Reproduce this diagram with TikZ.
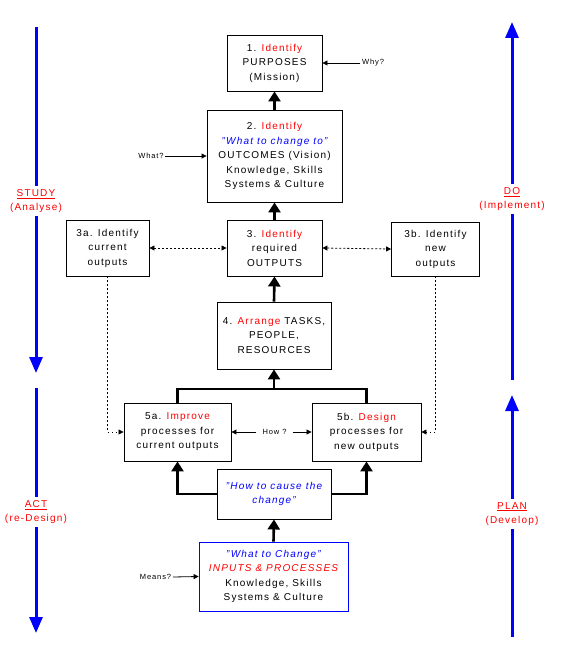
\documentclass[tikz,border=0pt]{standalone}
\usepackage{fontspec}
\setmainfont{Liberation Sans}[LetterSpace=12]
\usetikzlibrary{arrows.meta}

\begin{document}
\begin{tikzpicture}[
  x=1pt,y=-1pt,
  font=\fontsize{10}{14.5}\selectfont,
  box/.style={draw=black,line width=0.9pt,align=center,inner sep=0pt},
  link/.style={line width=2.6pt,-{Triangle[length=10pt,width=12pt]}},
  bar/.style={line width=2.6pt},
  ask/.style={font=\fontsize{7.5}{8}\selectfont,inner sep=1.5pt},
  askline/.style={line width=0.8pt,-{Triangle[length=5pt,width=5pt]}},
  peer/.style={line width=0.8pt,dash pattern=on 2pt off 2pt,{Triangle[length=5pt,width=5pt]}-{Triangle[length=5pt,width=5pt]}},
  feed/.style={line width=0.8pt,dash pattern=on 1.5pt off 2.5pt,-{Triangle[length=5pt,width=5pt]}},
  phase/.style={text=red,align=center,inner sep=3pt},
  pdca/.style={draw=blue,line width=3pt},
  pdcahead/.style={pdca,-{Triangle[length=16pt,width=13pt]}}
]
\useasboundingbox (0,0) rectangle (566,650);

% Purpose, outcome and output boxes.
\node[box,minimum width=95pt,minimum height=56pt] (p1) at (274.5,63)
  {1. \textcolor{red}{Identify}\\PURPOSES\\(Mission)};
\node[box,minimum width=135pt,minimum height=92pt] (out) at (274.5,156)
  {2. \textcolor{red}{Identify}\\\textcolor{blue}{\itshape "What to change to"}\\OUTCOMES (Vision)\\Knowledge, Skills\\Systems \& Culture};
\node[box,minimum width=83pt,minimum height=56pt] (cur) at (107.5,248)
  {3a. Identify\\current\\outputs};
\node[box,minimum width=95pt,minimum height=56pt] (req) at (274.5,248)
  {3. \textcolor{red}{Identify}\\required\\OUTPUTS};
\node[box,minimum width=88pt,minimum height=54pt] (new) at (435.5,249)
  {3b. Identify\\new\\outputs};
\node[box,minimum width=114pt,minimum height=67pt] (res) at (274,335.5)
  {4. \textcolor{red}{Arrange} TASKS,\\PEOPLE,\\RESOURCES};

% Process boxes.
\node[box,minimum width=107pt,minimum height=58pt] (imp) at (177.5,432)
  {5a. \textcolor{red}{Improve}\\processes for\\current outputs};
\node[box,minimum width=109pt,minimum height=58pt] (des) at (366.5,432)
  {5b. \textcolor{red}{Design}\\processes for\\new outputs};
\node[box,text=blue,font=\fontsize{10}{14.5}\selectfont\itshape,minimum width=114pt,minimum height=50pt] (how) at (274,494)
  {"How to cause the\\change"};
\node[box,draw=blue,minimum width=149pt,minimum height=69pt] (inp) at (273.5,576.5)
  {\textcolor{blue}{\itshape "What to Change"}\\\textcolor{red}{\itshape INPUTS \& PROCESSES}\\Knowledge, Skills\\Systems \& Culture};

% Questions.
\node[ask] (why) at (373,63) {Why?};
\node[ask] (what) at (151,156) {What?};
\node[ask,inner sep=6pt] (howq) at (274.5,432) {How ?};
\node[ask] (means) at (155.5,577) {Means?};

\draw[askline] (why.west) -- (p1.east);
\draw[askline] (what.east) -- (out.west);
\draw[askline] (means.east) -- (inp.west);
\draw[askline] (howq.west) -- (imp.east);
\draw[askline] (howq.east) -- (des.west);

% Main flow.
\draw[link] (out.north) -- (p1.south);
\draw[link] (req.north) -- (out.south);
\draw[link] (res.north) -- (req.south);
\coordinate (join) at (274,389);
\draw[bar] (imp.north) |- (join) -| (des.north);
\draw[link] (join) -- (res.south);
\draw[link] (how.west) -| (imp.south);
\draw[link] (how.east) -| (des.south);
\draw[link] (inp.north) -- (how.south);

\draw[peer] (cur.east) -- (req.west);
\draw[peer] (req.east) -- (new.west);
\draw[feed] (cur.south) |- (imp.west);
\draw[feed] (new.south) |- (des.east);

% PDCA arrows at the sides.
\node[phase] (study) at (36,201) {\underline{STUDY}\\(Analyse)};
\node[phase] (act) at (36,512) {\underline{ACT}\\(re-Design)};
\node[phase] (do) at (512,199) {\underline{DO}\\(Implement)};
\node[phase] (plan) at (512,514) {\underline{PLAN}\\(Develop)};

\coordinate (s0) at (36,27);
\coordinate (s1) at (36,373);
\coordinate (a0) at (36,388);
\coordinate (a1) at (36,633);
\coordinate (d0) at (512,380);
\coordinate (d1) at (512,22);
\coordinate (l0) at (512,637);
\coordinate (l1) at (512,395);

\draw[pdca] (s0) -- (study.north);
\draw[pdcahead] (study.south) -- (s1);
\draw[pdca] (a0) -- (act.north);
\draw[pdcahead] (act.south) -- (a1);
\draw[pdca] (d0) -- (do.south);
\draw[pdcahead] (do.north) -- (d1);
\draw[pdca] (l0) -- (plan.south);
\draw[pdcahead] (plan.north) -- (l1);
\end{tikzpicture}
\end{document}
